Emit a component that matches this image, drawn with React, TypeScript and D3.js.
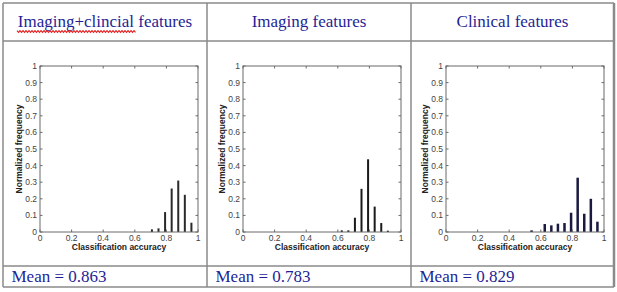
import React from "react";
import * as d3 from "d3";

const titles = ["Imaging+clincial features", "Imaging features", "Clinical features"];
const means = ["Mean = 0.863", "Mean = 0.783", "Mean = 0.829"];

// bin centers are k/24
const bins1 = [17, 18, 19, 20, 21, 22, 23];
const freq1 = [0.016, 0.022, 0.12, 0.262, 0.31, 0.224, 0.056];
const bins2 = [15, 16, 17, 18, 19, 20, 21, 22];
const freq2 = [0.01, 0.01, 0.086, 0.26, 0.438, 0.153, 0.054, 0.008];
const bins3 = [13, 15, 16, 17, 18, 19, 20, 21, 22, 23];
const freq3 = [0.01, 0.048, 0.04, 0.05, 0.054, 0.116, 0.327, 0.11, 0.2, 0.062];

const xTicks = [0, 0.2, 0.4, 0.6, 0.8, 1];
const yTicks = [0, 0.1, 0.2, 0.3, 0.4, 0.5, 0.6, 0.7, 0.8, 0.9, 1];

const panels = [
  { bins: bins1, freq: freq1, left: 40, color: "#2a2a2a", bw: 2 },
  { bins: bins2, freq: freq2, left: 243, color: "#1a1a1a", bw: 2 },
  { bins: bins3, freq: freq3, left: 446, color: "#1a1a40", bw: 2.5 },
];

const colX = [3, 207, 411, 614];
const rowY = [3, 41, 266, 287];
const gridColor = "#8a8a8a";
const textBlue = "#1f1f96";

function fmt(v: number) {
  return v === 0 ? "0" : v === 1 ? "1" : String(v);
}

function Panel({ p }: { p: typeof panels[0] }) {
  const W = 158;
  const top = 66;
  const bottom = 232;
  const x = d3.scaleLinear().domain([0, 1]).range([p.left, p.left + W]);
  const y = d3.scaleLinear().domain([0, 1]).range([bottom, top]);
  const tl = 2.5;
  const axisColor = "#6a6a6a";
  const font = "Liberation Sans, Arial, sans-serif";
  return (
    <g>
      {p.bins.map((b, i) => {
        const xc = x(b / 24);
        return (
          <rect
            key={i}
            x={xc - p.bw / 2}
            y={y(p.freq[i])}
            width={p.bw}
            height={bottom - y(p.freq[i])}
            fill={p.color}
          />
        );
      })}
      <rect x={x(0)} y={top} width={W} height={bottom - top} fill="none" stroke={axisColor} strokeWidth={1} />
      {xTicks.map((t) => (
        <g key={"x" + t}>
          <line x1={x(t)} x2={x(t)} y1={bottom} y2={bottom - tl} stroke={axisColor} />
          <line x1={x(t)} x2={x(t)} y1={top} y2={top + tl} stroke={axisColor} />
          <text x={x(t)} y={bottom + 9} textAnchor="middle" fontSize={8.5} fill="#444" fontFamily={font}>
            {fmt(t)}
          </text>
        </g>
      ))}
      {yTicks.map((t) => (
        <g key={"y" + t}>
          <line x1={x(0)} x2={x(0) + tl} y1={y(t)} y2={y(t)} stroke={axisColor} />
          <line x1={x(1)} x2={x(1) - tl} y1={y(t)} y2={y(t)} stroke={axisColor} />
          <text x={x(0) - 3} y={y(t) + 3} textAnchor="end" fontSize={8.5} fill="#444" fontFamily={font}>
            {fmt(t)}
          </text>
        </g>
      ))}
      <text
        x={x(0.5)}
        y={bottom + 18}
        textAnchor="middle"
        fontSize={8.5}
        fontWeight="bold"
        fill="#222"
        fontFamily={font}
      >
        Classification accuracy
      </text>
      <text
        transform={`translate(${p.left - 18},${(top + bottom) / 2}) rotate(-90)`}
        textAnchor="middle"
        fontSize={8.5}
        fontWeight="bold"
        fill="#222"
        fontFamily={font}
      >
        Normalized frequency
      </text>
    </g>
  );
}

export default function App() {
  const serif = "Liberation Serif, Times New Roman, serif";
  // red wavy spell-check underline
  const waveX0 = 17;
  const waveX1 = 136;
  const waveY = 31.5;
  const pts = d3.range(waveX0, waveX1 + 0.1, 1.5).map((xx, i) => [xx, waveY + (i % 2 === 0 ? -0.9 : 0.9)] as [number, number]);
  const wave = d3.line()(pts) || "";
  return (
    <svg
      width={617}
      height={292}
      style={{ position: "absolute", left: 0, top: 0, background: "#fff" }}
    >
      <rect x={0} y={0} width={617} height={292} fill="#fff" />
      {rowY.map((yy, i) => (
        <line key={"r" + i} x1={colX[0]} x2={colX[3]} y1={yy} y2={yy} stroke={gridColor} strokeWidth={1.5} />
      ))}
      {colX.map((xx, i) => (
        <line
          key={"c" + i}
          x1={xx}
          x2={xx}
          y1={rowY[0]}
          y2={rowY[3]}
          stroke={gridColor}
          strokeWidth={i === 3 ? 2.5 : 1.5}
        />
      ))}
      {titles.map((t, i) => (
        <text
          key={"t" + i}
          x={(colX[i] + colX[i + 1]) / 2}
          y={26.5}
          textAnchor="middle"
          fontSize={17}
          fill={textBlue}
          fontFamily={serif}
        >
          {t}
        </text>
      ))}
      <path d={wave} fill="none" stroke="#e02020" strokeWidth={1.1} />
      {panels.map((p, i) => (
        <Panel key={i} p={p} />
      ))}
      {means.map((m, i) => (
        <text key={"m" + i} x={colX[i] + 8.5} y={282} fontSize={17} fill={textBlue} fontFamily={serif}>
          {m}
        </text>
      ))}
    </svg>
  );
}
